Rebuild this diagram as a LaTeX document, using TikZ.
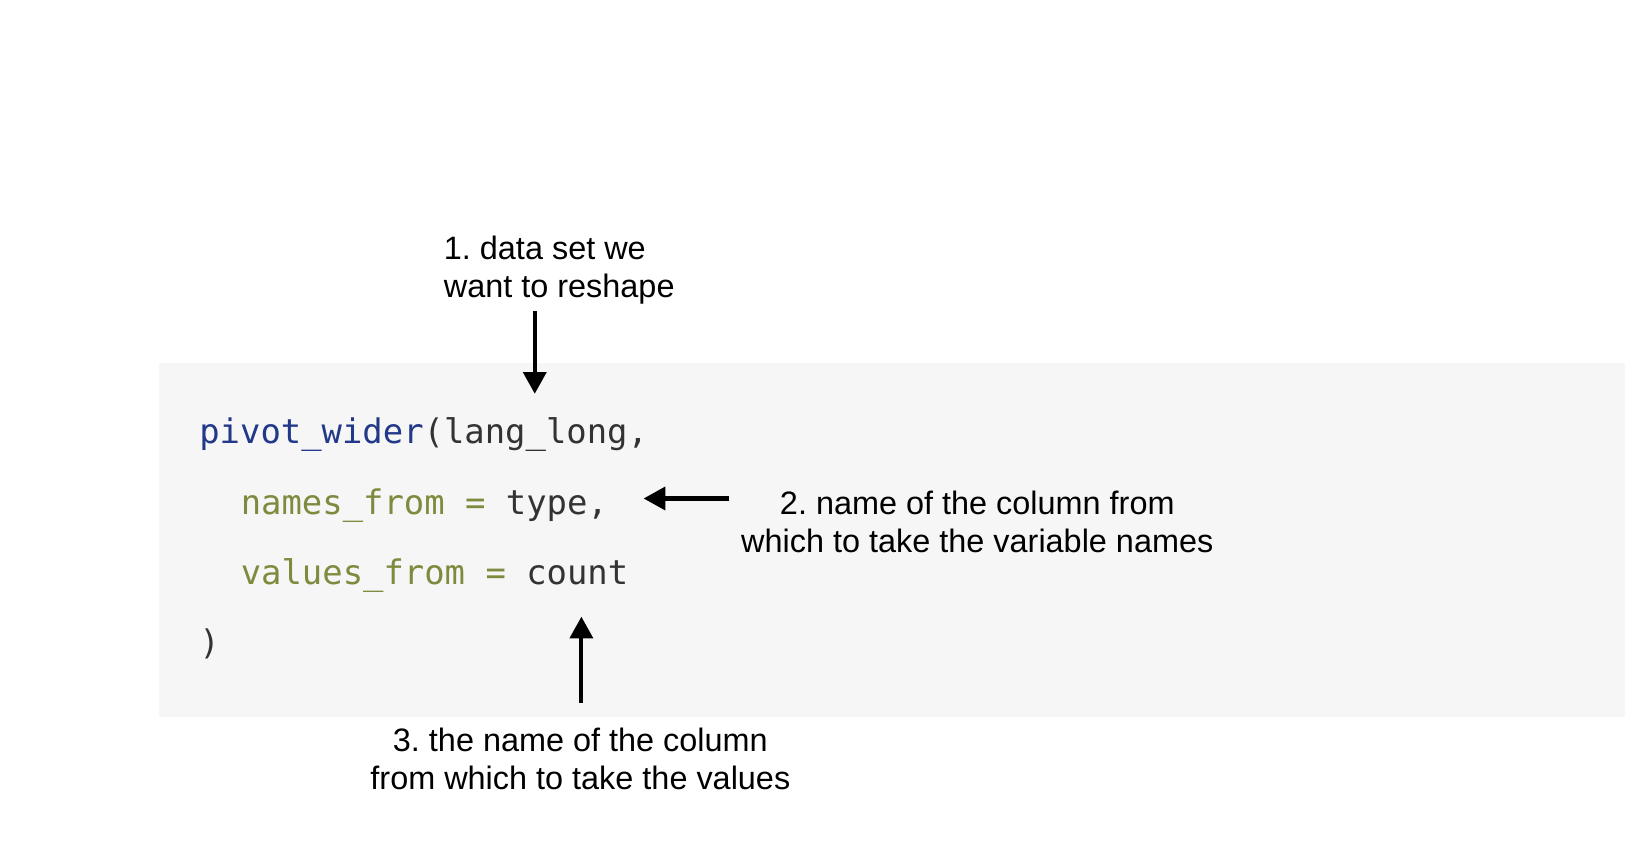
\documentclass[tikz,border=0pt]{standalone}
\usepackage{fontspec}
\setmainfont{Liberation Sans}
\newfontfamily\codefont{DejaVu Sans Mono}
\usepackage{xcolor}
\usepackage{tikz}
\usetikzlibrary{arrows.meta}
\frenchspacing
\definecolor{codebg}{HTML}{F6F6F6}
\definecolor{codefun}{HTML}{22398A}
\definecolor{codearg}{HTML}{7E8B3E}
\definecolor{codetxt}{HTML}{333333}
\tikzstyle{note} = [inner sep=0pt, anchor=base, font=\fontsize{17.8pt}{21pt}\selectfont]
\tikzstyle{code} = [inner sep=0pt, anchor=base west, text=codetxt, font=\codefont\fontsize{18.6pt}{22pt}\selectfont]
\tikzstyle{arrow} = [line width=2.3pt, -{Triangle[length=0.42cm, width=0.44cm]}]

\begin{document}
\begin{tikzpicture}
	\useasboundingbox (0,0) rectangle (31.36,-16.4);
	\fill [codebg] (3.06,-7.0) rectangle (31.36,-13.84);
	% the call
	\node (call) [code] at (3.84,-8.56) {\textcolor{codefun}{pivot\_wider}(lang\_long,};
	\node (names) [code] at (4.64,-9.92) {\textcolor{codearg}{names\_from =} type,};
	\node (values) [code] at (4.64,-11.28) {\textcolor{codearg}{values\_from =} count};
	\node (close) [code] at (3.84,-12.64) {)};
	% notes
	\node (data) [note, anchor=base west, align=left] at (8.56,-5.74) {1. data set we\\want to reshape};
	\node (from) [note, align=center] at (18.86,-10.66) {2. name of the column from\\which to take the variable names};
	\node (vals) [note, align=center] at (11.2,-15.24) {3. the name of the column\\from which to take the values};
	% arrows
	\coordinate (t1) at (10.32,-6.0);
	\coordinate (h1) at (10.32,-7.6);
	\coordinate (t2) at (14.06,-9.62);
	\coordinate (h2) at (12.42,-9.62);
	\coordinate (t3) at (11.22,-13.56);
	\coordinate (h3) at (11.22,-11.9);
	\draw [arrow] (t1) -- (h1);
	\draw [arrow] (t2) -- (h2);
	\draw [arrow] (t3) -- (h3);
\end{tikzpicture}
\end{document}
